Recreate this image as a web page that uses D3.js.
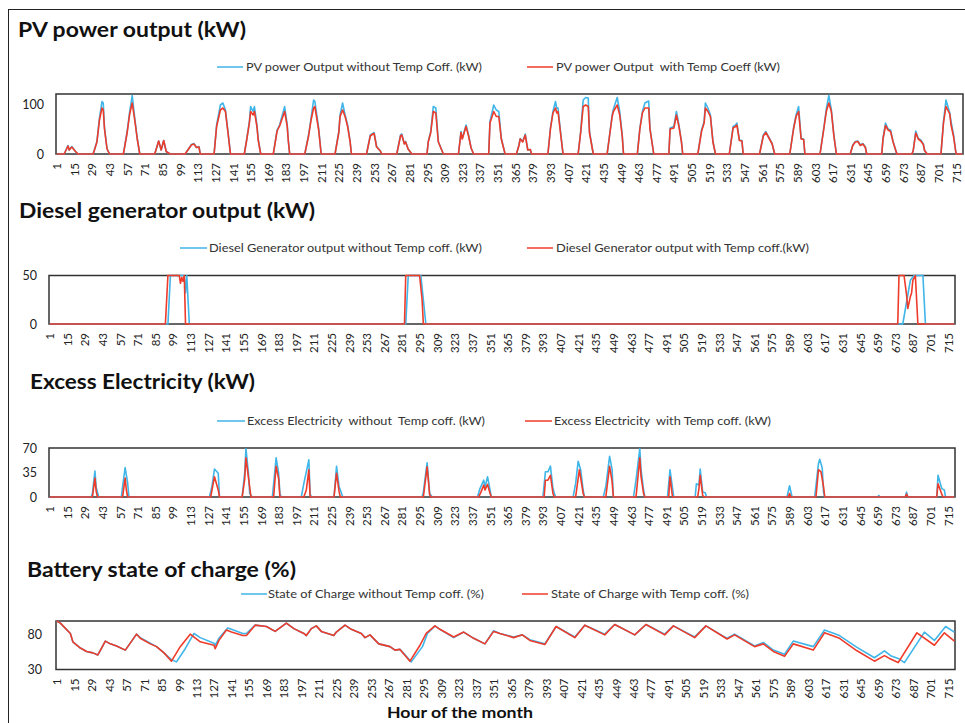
<!DOCTYPE html>
<html><head><meta charset="utf-8">
<script src="https://cdn.jsdelivr.net/npm/d3@7"></script>
<style>body{margin:0;background:#fff} svg{display:block} text{font-family:Lato,"Open Sans",sans-serif}</style>
</head><body><svg id="c" width="965" height="723"></svg>
<script>
// ---------------- DATA (hour of month, value) ----------------
const hourTicks = [1,15,29,43,57,71,85,99,113,127,141,155,169,183,197,211,225,239,253,267,281,295,309,323,337,351,365,379,393,407,421,435,449,463,477,491,505,519,533,547,561,575,589,603,617,631,645,659,673,687,701,715];

const pvTicks = [0,100];
const dgTicks = [0,50];
const exTicks = [0,35,70];
const socTicks = [30,80];

const pvNoTemp = [[1,0],[7,0],[10,17],[11,8],[13,15],[16,5],[18,0],
[30,0],[33,25],[35,72],[37,105],[38,102],[39,52],[41,11],[43,0],
[54,0],[57,45],[59,85],[61,117],[63,72],[65,31],[67,0],
[78,0],[79,1],[82,26],[84,8],[86,27],[88,5],[91,0],
[103,0],[106,11],[108,19],[110,21],[112,13],[114,15],[115,0],
[126,0],[128,58],[131,98],[133,102],[135,88],[137,45],[139,0],
[150,0],[152,31],[154,65],[155,95],[157,85],[158,95],[160,58],[161,30],[163,0],
[173,0],[176,48],[178,58],[182,95],[184,60],[185,25],[186,0],
[198,0],[201,38],[203,72],[205,108],[206,105],[209,52],[211,0],
[222,0],[225,45],[226,78],[228,102],[230,78],[232,58],[234,25],[235,0],
[247,0],[250,38],[252,41],[253,43],[255,15],[258,6],[259,0],
[271,0],[274,38],[275,40],[277,21],[278,25],[280,10],[283,0],
[295,0],[296,25],[298,45],[300,95],[302,92],[304,25],[308,0],
[320,0],[322,45],[323,31],[326,58],[328,38],[330,12],[332,0],
[344,0],[345,65],[348,98],[350,88],[352,85],[354,31],[357,0],
[366,0],[368,18],[369,31],[371,25],[373,40],[375,8],[377,9],[378,0],
[391,0],[393,52],[395,85],[397,105],[398,92],[399,92],[401,45],[403,0],
[415,0],[417,45],[419,108],[421,113],[423,112],[424,45],[427,0],
[438,0],[442,78],[443,90],[446,113],[448,85],[450,38],[451,0],
[462,0],[464,52],[466,85],[468,102],[471,106],[472,52],[475,0],
[487,0],[488,52],[491,55],[493,85],[495,58],[497,25],[498,0],
[510,0],[513,48],[515,65],[516,102],[518,92],[520,78],[522,25],[524,0],
[535,0],[538,55],[540,58],[541,62],[543,28],[545,27],[546,0],
[559,0],[562,38],[564,45],[566,35],[569,21],[571,0],
[583,0],[586,52],[588,78],[590,95],[592,31],[594,30],[595,0],
[607,0],[610,52],[612,90],[614,117],[616,88],[618,38],[620,0],
[631,0],[633,18],[635,25],[637,26],[639,18],[641,21],[643,14],[644,0],
[656,0],[657,31],[659,62],[661,50],[663,48],[665,25],[668,0],
[680,0],[681,7],[683,46],[685,31],[687,28],[689,20],[690,7],[692,0],
[703,0],[705,65],[707,108],[710,82],[711,65],[713,38],[715,0],[720,0]];

const pvTemp = [[1,0],[7,0],[10,16],[11,8],[13,14],[16,5],[18,0],
[30,0],[33,24],[35,68],[37,92],[38,88],[39,50],[41,10],[43,0],
[54,0],[57,43],[59,80],[61,102],[63,68],[65,30],[67,0],
[78,0],[79,1],[82,26],[84,8],[86,27],[88,5],[91,0],
[103,0],[106,11],[108,18],[110,20],[112,13],[114,14],[115,0],
[126,0],[128,55],[131,88],[133,92],[135,85],[137,43],[139,0],
[150,0],[152,30],[154,62],[155,85],[157,78],[158,85],[160,55],[161,28],[163,0],
[173,0],[176,46],[178,56],[182,85],[184,56],[185,24],[186,0],
[198,0],[201,36],[203,68],[205,92],[206,95],[209,48],[211,0],
[222,0],[225,43],[226,75],[228,88],[230,75],[232,55],[234,24],[235,0],
[247,0],[250,36],[252,40],[253,41],[255,14],[258,6],[259,0],
[271,0],[274,36],[275,38],[277,20],[278,24],[280,10],[283,0],
[295,0],[296,24],[298,43],[300,85],[302,82],[304,24],[308,0],
[320,0],[322,43],[323,30],[326,55],[328,36],[330,12],[332,0],
[344,0],[345,62],[348,85],[350,75],[352,75],[354,30],[357,0],
[366,0],[368,17],[369,30],[371,24],[373,38],[375,8],[377,9],[378,0],
[391,0],[393,50],[395,82],[397,92],[398,82],[399,85],[401,42],[403,0],
[415,0],[417,43],[419,95],[421,98],[423,95],[424,42],[427,0],
[438,0],[442,75],[443,85],[446,98],[448,78],[450,35],[451,0],
[462,0],[464,50],[466,82],[468,92],[471,92],[472,50],[475,0],
[487,0],[488,50],[491,52],[493,78],[495,55],[497,24],[498,0],
[510,0],[513,46],[515,62],[516,92],[518,85],[520,75],[522,24],[524,0],
[535,0],[538,52],[540,55],[541,58],[543,27],[545,26],[546,0],
[559,0],[562,36],[564,43],[566,34],[569,20],[571,0],
[583,0],[586,50],[588,75],[590,85],[592,30],[594,29],[595,0],
[607,0],[610,50],[612,85],[614,102],[616,85],[618,36],[620,0],
[631,0],[633,17],[635,24],[637,25],[639,17],[641,20],[643,13],[644,0],
[656,0],[657,30],[659,57],[661,48],[663,45],[665,24],[668,0],
[680,0],[681,7],[683,42],[685,30],[687,26],[689,19],[690,7],[692,0],
[703,0],[705,62],[707,95],[710,80],[711,58],[713,35],[715,0],[720,0]];

const dgNoTemp = [[1,0],[95,0],[97,50],[108,50],[109,32],[110,50],[112,0],[284,0],[286,50],[296,50],[300,0],[679,0],[685,45],[688,50],[695,50],[697,0],[720,0]];
const dgTemp = [[1,0],[93,0],[95,50],[104,50],[105,42],[106,48],[107,44],[108,50],[109,0],[283,0],[284,50],[295,50],[297,25],[298,0],[675,0],[676,50],[680,50],[682,30],[683,16],[685,28],[686,32],[687,45],[689,50],[691,0],[720,0]];

const exNoTemp = [[1,0],[34,0],[35,5],[37,37],[38,14],[40,0],
[58,0],[59,15],[61,42],[63,20],[64,0],
[128,0],[130,15],[132,40],[135,34],[136,0],
[154,0],[156,34],[157,69],[159,34],[160,5],[162,0],
[178,0],[181,56],[183,34],[184,5],[185,0],
[201,0],[203,19],[207,53],[208,5],[209,0],
[227,0],[229,44],[231,15],[233,5],[234,0],
[297,0],[298,7],[301,49],[303,5],[305,0],
[341,0],[343,12],[346,24],[347,14],[349,29],[351,10],[352,0],
[393,0],[395,36],[397,36],[399,44],[401,12],[403,0],
[417,0],[419,19],[421,51],[423,39],[425,10],[426,0],
[441,0],[443,15],[446,58],[448,39],[449,0],
[465,0],[467,24],[470,69],[471,39],[473,10],[474,0],
[492,0],[494,39],[497,0],
[514,0],[515,19],[517,17],[518,40],[520,7],[522,6],[523,0],
[587,0],[589,16],[591,0],
[609,0],[612,48],[613,54],[615,41],[616,7],[617,0],
[659,0],[660,2],[661,0],
[681,0],[682,7],[683,0],
[706,0],[707,31],[710,12],[712,10],[713,0],[720,0]];

const exTemp = [[1,0],[35,0],[37,27],[38,8],[39,0],
[59,0],[61,27],[62,10],[63,0],
[129,0],[132,29],[135,10],[136,0],
[154,0],[156,25],[157,56],[159,28],[161,0],
[179,0],[181,44],[183,26],[184,0],
[203,0],[205,10],[207,39],[208,0],
[227,0],[229,34],[231,8],[232,0],
[298,0],[301,43],[303,3],[304,0],
[342,0],[344,8],[346,17],[347,10],[349,18],[351,5],[352,0],
[394,0],[395,24],[397,24],[399,31],[401,5],[402,0],
[419,0],[422,39],[425,5],[426,0],
[443,0],[446,44],[448,22],[449,0],
[467,0],[470,56],[471,29],[473,5],[474,0],
[493,0],[494,29],[496,0],
[516,0],[517,12],[518,31],[520,2],[521,0],
[588,0],[589,5],[590,0],
[610,0],[612,39],[614,36],[616,15],[617,0],
[681,0],[682,4],[683,0],
[706,0],[707,19],[710,4],[711,0],[720,0]];

const socNoTemp = [[1,100],[4,97],[12,82],[14,70],[20,61],[25,56],[30,54],[34,51],[37,61],[40,71],[44,67],[49,64],[56,58],[58,63],[65,81],[68,76],[76,68],[81,63],[87,54],[93,44],[97,41],[104,60],[111,82],[116,76],[127,68],[128,65],[131,75],[138,90],[141,88],[150,82],[153,82],[160,94],[169,92],[176,85],[185,97],[191,89],[199,82],[201,79],[205,89],[209,93],[213,85],[223,79],[225,84],[232,94],[237,88],[245,82],[248,76],[252,80],[259,67],[268,63],[272,58],[276,59],[285,41],[294,63],[298,82],[304,93],[308,88],[319,76],[327,84],[335,75],[344,67],[351,86],[356,82],[367,77],[374,80],[380,73],[392,67],[401,92],[416,77],[424,94],[440,81],[448,95],[464,80],[473,95],[488,81],[495,93],[512,77],[521,93],[538,75],[544,81],[560,64],[567,69],[575,58],[584,52],[591,71],[607,63],[616,87],[628,79],[642,62],[656,47],[664,57],[669,50],[675,46],[680,40],[696,84],[704,72],[713,92],[720,84]];

const socTemp = [[1,100],[4,97],[12,82],[14,70],[20,61],[25,56],[30,54],[34,51],[37,61],[40,71],[44,67],[49,64],[56,58],[58,63],[65,81],[68,75],[76,67],[81,63],[87,54],[93,42],[100,63],[108,81],[116,70],[127,65],[128,60],[131,72],[137,87],[141,84],[150,79],[153,79],[160,94],[169,92],[176,85],[185,97],[191,89],[199,82],[201,79],[205,89],[209,93],[213,85],[223,79],[225,84],[232,94],[237,88],[245,82],[248,76],[252,80],[259,67],[268,63],[272,58],[276,59],[284,42],[292,65],[297,82],[304,93],[308,88],[319,77],[327,84],[335,75],[344,67],[351,85],[356,82],[367,76],[374,80],[380,72],[392,66],[401,92],[416,76],[424,94],[440,80],[448,95],[464,80],[473,95],[488,80],[495,93],[512,76],[521,93],[538,74],[544,80],[560,63],[567,67],[575,56],[584,49],[591,67],[607,58],[616,83],[628,75],[642,57],[656,42],[664,50],[668,46],[675,40],[690,83],[704,65],[712,83],[720,71]];

// ---------------- LAYOUT ----------------
const colors = ["#3FB5E8", "#EE3B2A"];
const layout = [
  {title:"PV power output (kW)", tx:18, ty:37, tw:228, ly:67,
   legend:[{x1:217,x2:243,tx:246,tw:236,label:"PV power Output without Temp Coff. (kW)"},
           {x1:527,x2:553,tx:556,tw:224,label:"PV power Output  with Temp Coeff (kW)"}],
   x0:56, x1:963, y0:94, y1:154, ydom:[0,120], yticks:pvTicks, ypad:12, series:[pvNoTemp,pvTemp]},
  {title:"Diesel generator output (kW)", tx:19, ty:218, tw:296, ly:248,
   legend:[{x1:180,x2:207,tx:209,tw:273,label:"Diesel Generator output without Temp coff. (kW)"},
           {x1:527,x2:553,tx:556,tw:253,label:"Diesel Generator output with Temp coff.(kW)"}],
   x0:49, x1:955, y0:275.5, y1:324, ydom:[0,50], yticks:dgTicks, ypad:12, series:[dgNoTemp,dgTemp]},
  {title:"Excess Electricity (kW)", tx:30, ty:389, tw:225, ly:421,
   legend:[{x1:217,x2:245,tx:247,tw:238,label:"Excess Electricity  without  Temp coff. (kW)"},
           {x1:525,x2:552,tx:554,tw:217,label:"Excess Electricity  with Temp coff. (kW)"}],
   x0:49, x1:955, y0:448, y1:497, ydom:[0,70], yticks:exTicks, ypad:12, series:[exNoTemp,exTemp]},
  {title:"Battery state of charge (%)", tx:27, ty:577, tw:269, ly:594,
   legend:[{x1:241,x2:267,tx:268,tw:216,label:"State of Charge without Temp coff. (%)"},
           {x1:522,x2:548,tx:551,tw:198,label:"State of Charge with Temp coff. (%)"}],
   x0:56, x1:955, y0:621, y1:669.5, ydom:[30,100], yticks:socTicks, ypad:14, series:[socNoTemp,socTemp]}
];

// ---------------- DRAW ----------------
const svg = d3.select("#c");
svg.append("rect").attr("width",965).attr("height",723).attr("fill","#fff");
svg.append("rect").attr("x",8.5).attr("y",9.5).attr("width",990).attr("height",760)
   .attr("fill","none").attr("stroke","#222").attr("stroke-width",1);

layout.forEach(p => {
  const g = svg.append("g");
  g.append("text").attr("x",p.tx).attr("y",p.ty).text(p.title)
    .attr("font-size",21).attr("font-weight",700).attr("fill","#111")
    .attr("textLength",p.tw).attr("lengthAdjust","spacingAndGlyphs");

  p.legend.forEach((l,i) => {
    g.append("line").attr("x1",l.x1).attr("x2",l.x2).attr("y1",p.ly).attr("y2",p.ly)
      .attr("stroke",colors[i]).attr("stroke-width",1.5);
    g.append("text").attr("x",l.tx).attr("y",p.ly).attr("dy","0.35em").text(l.label)
      .attr("font-size",12).attr("fill","#333").style("white-space","pre")
      .attr("textLength",l.tw).attr("lengthAdjust","spacingAndGlyphs");
  });

  const x = d3.scaleLinear().domain([0.5,720.5]).range([p.x0,p.x1]);
  const y = d3.scaleLinear().domain(p.ydom).range([p.y1,p.y0]);

  g.append("rect").attr("x",p.x0).attr("y",p.y0).attr("width",p.x1-p.x0).attr("height",p.y1-p.y0)
    .attr("fill","none").attr("stroke","#333").attr("stroke-width",1.5);

  const ya = g.append("g").attr("transform",`translate(${p.x0},0)`)
    .call(d3.axisLeft(y).tickValues(p.yticks).tickSize(0).tickPadding(p.ypad));
  ya.select(".domain").remove();
  ya.attr("font-family","Lato").attr("font-size",12.5);
  ya.selectAll("text").attr("fill","#222");

  const xa = g.append("g").attr("transform",`translate(0,${p.y1})`)
    .call(d3.axisBottom(x).tickValues(hourTicks).tickSize(0));
  xa.select(".domain").remove();
  xa.attr("font-family","Lato").attr("font-size",11.5);
  xa.selectAll("text").attr("transform","rotate(-90)").attr("x",-9).attr("y",0)
    .attr("dy","0.35em").attr("text-anchor","end").attr("fill","#222");

  const line = d3.line().x(d => x(d[0])).y(d => y(d[1]));
  p.series.forEach((s,i) => {
    g.append("path").datum(s).attr("d",line).attr("fill","none")
      .attr("stroke",colors[i]).attr("stroke-width",1.6).attr("stroke-linejoin","round");
  });
});

svg.append("text").attr("x",387).attr("y",718).text("Hour of the month")
  .attr("font-size",15).attr("font-weight",700).attr("fill","#111")
  .attr("textLength",146).attr("lengthAdjust","spacingAndGlyphs");
</script>
</body></html>
